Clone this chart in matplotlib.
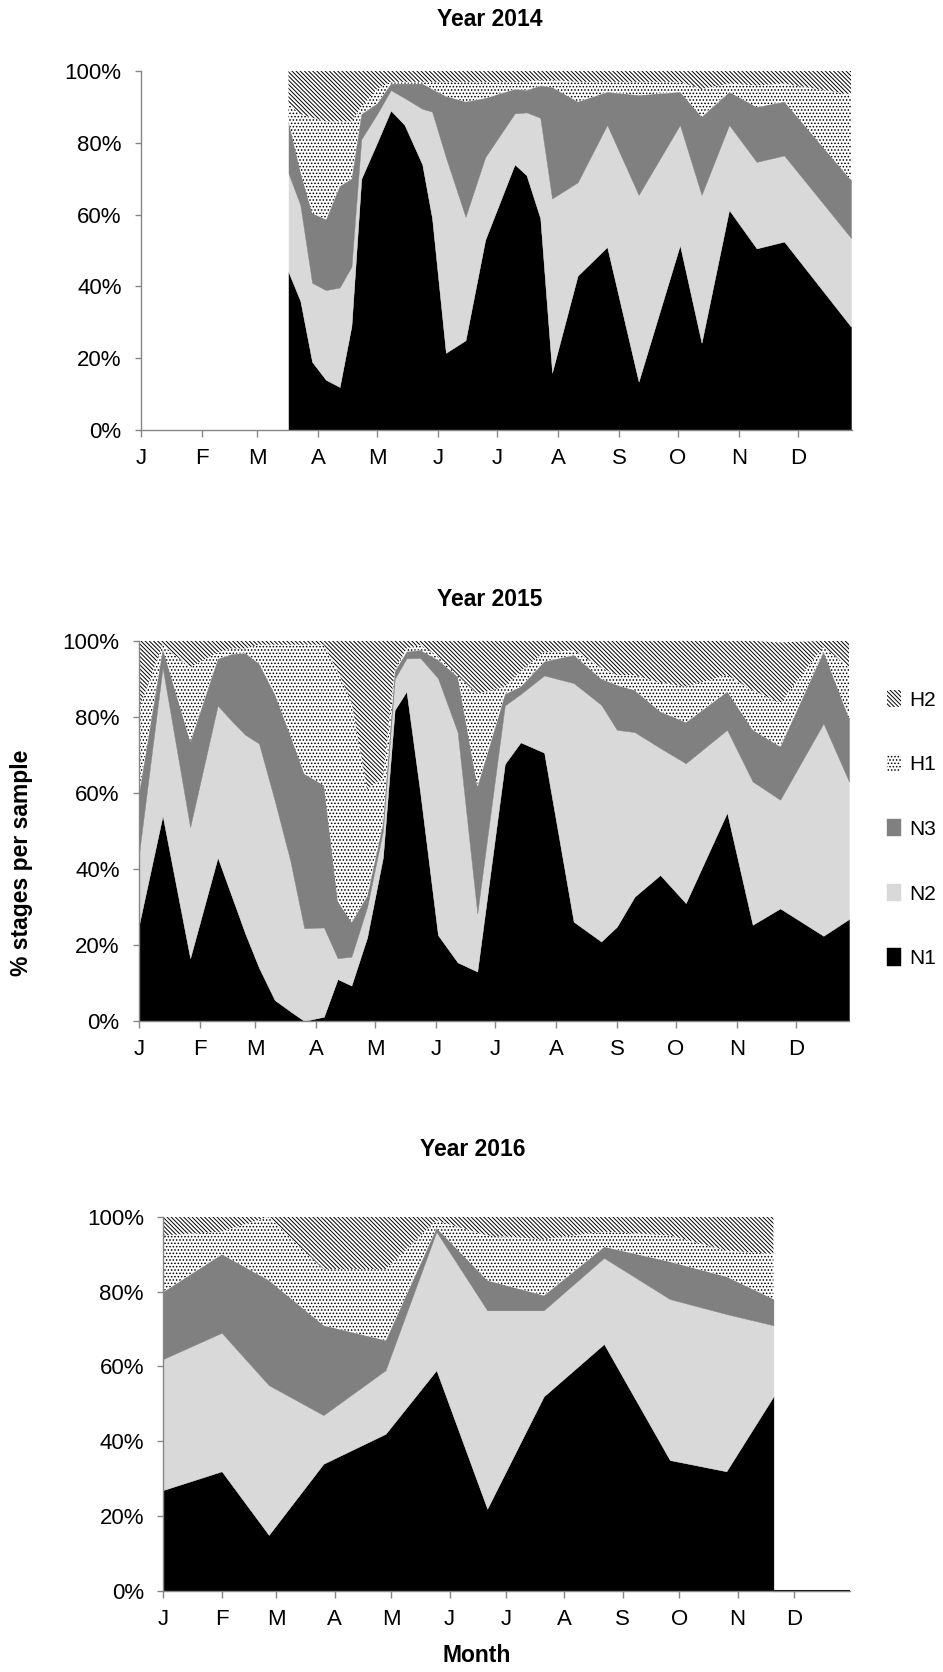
import numpy as np
import pandas as pd
import matplotlib
matplotlib.use('Agg')
import matplotlib.pyplot as plt
import matplotlib.dates as mdates
from matplotlib.ticker import PercentFormatter, FuncFormatter, MultipleLocator

plt.rcParams['font.family'] = ['Liberation Sans', 'DejaVu Sans']
plt.rcParams['hatch.linewidth'] = 0.7

stages = ['N1', 'N2', 'N3', 'H1', 'H2']
colours = ['black', '#d9d9d9', '#808080', 'white', 'white']
hatches = [None, None, None, '.....', '\\' * 8]

# --- 2014 samples (% of each stage per sample) ---
dates_2014 = ['2014-03-17', '2014-03-23', '2014-03-29', '2014-04-05', '2014-04-12',
              '2014-04-18', '2014-04-23', '2014-05-01', '2014-05-08', '2014-05-15',
              '2014-05-24', '2014-05-29', '2014-06-05', '2014-06-15', '2014-06-25',
              '2014-07-10', '2014-07-16', '2014-07-23', '2014-07-29', '2014-08-11',
              '2014-08-26', '2014-09-11', '2014-10-02', '2014-10-13', '2014-10-27',
              '2014-11-10', '2014-11-24', '2014-12-28']
n1_2014 = [44, 36, 19, 14, 12, 29, 70, 80, 89, 85, 74, 59, 21.5, 25, 53, 74, 71, 59,
           16, 43, 51, 13.5, 51.5, 24.3, 61.3, 50.6, 52.5, 28.8]
n2_2014 = [27.5, 26.7, 22, 25, 27.7, 16.5, 11, 8, 5.7, 7.5, 15.5, 29.7, 54.5, 34.4, 23,
           14.2, 17.5, 28, 48.5, 26, 34, 52, 33.5, 41.2, 23.7, 24.1, 24, 24.7]
n3_2014 = [14.5, 9.3, 19.4, 19.7, 28.3, 24.5, 7, 3, 1.8, 4, 7, 6.3, 17, 32.1, 16.5,
           6.8, 6.2, 9, 31, 22.5, 9.2, 27.8, 9.2, 21.8, 9.2, 15.3, 15, 16.1]
h1_2014 = [5, 16, 26.6, 27.3, 18, 16, 2, 4, 0.5, 0.5, 0.5, 2, 4, 5.5, 4.5, 2, 2.3, 1.5,
           2, 5.5, 2.8, 3.7, 2.8, 7.7, 2.3, 6, 5, 23.9]
h2_2014 = [9, 12, 13, 14, 14, 14, 10, 5, 3, 3, 3, 3, 3, 3, 3, 3, 3, 2.5, 2.5, 3, 3, 3,
           3, 5, 3.5, 4, 3.5, 6.5]

# --- 2015 samples ---
dates_2015 = ['2015-01-01', '2015-01-13', '2015-01-27', '2015-02-10', '2015-02-17',
              '2015-02-24', '2015-03-03', '2015-03-11', '2015-03-19', '2015-03-26',
              '2015-04-05', '2015-04-12', '2015-04-19', '2015-04-27', '2015-05-05',
              '2015-05-11', '2015-05-17', '2015-05-24', '2015-06-02', '2015-06-12',
              '2015-06-22', '2015-07-06', '2015-07-14', '2015-07-26', '2015-08-10',
              '2015-08-24', '2015-09-01', '2015-09-10', '2015-09-23', '2015-10-06',
              '2015-10-27', '2015-11-09', '2015-11-23', '2015-12-15', '2015-12-28']
n1_2015 = [25.3, 54, 16.5, 43, 33, 23, 14, 5.5, 2.5, 0, 1.1, 11, 9.3, 22, 43, 81.8,
           86.7, 60, 22.6, 15.4, 13, 67.6, 73.3, 70.6, 26.1, 20.9, 24.8, 32.7, 38.4,
           31, 54.8, 25.3, 29.6, 22.4, 26.8]
n2_2015 = [18.7, 39, 34.5, 40, 46, 52.3, 59, 52.5, 39.5, 24.4, 23.5, 5.5, 7.6, 8, 7,
           8.2, 8.7, 35.5, 67.6, 60.6, 15.3, 15.4, 12.7, 20.3, 62.8, 62.3, 51.8, 43.3,
           33.4, 36.8, 21.8, 37.7, 28.6, 55.9, 36.2]
n3_2015 = [16, 5, 22.5, 12.3, 17.5, 21.5, 21, 28, 33, 40.6, 37.4, 15, 9.1, 3, 2, 2,
           1.8, 2.1, 4.8, 14.6, 33.4, 3, 2, 3.7, 7.4, 6.8, 11.8, 11, 9.6, 10.8, 10.1,
           13.6, 14, 18.9, 16.6]
h1_2015 = [22, 1, 19.5, 1.7, 1.5, 1.2, 5, 13, 24, 34, 37, 60.5, 58, 28, 12, 0.5, 0.8,
           1.4, 1, 0.4, 24.3, 2, 4, 2.4, 1.2, 3, 2.6, 4, 7.6, 9.4, 4.3, 10.4, 11.4,
           1.3, 13.4]
h2_2015 = [18, 1, 7, 3, 2, 2, 1, 1, 1, 1, 1, 8, 16, 39, 36, 7.5, 2, 1, 4, 9, 14, 12,
           8, 3, 2.5, 7, 9, 9, 11, 12, 9, 13, 16, 1.5, 7]

# --- 2016 samples ---
dates_2016 = ['2016-01-01', '2016-02-01', '2016-02-26', '2016-03-26', '2016-04-28',
              '2016-05-25', '2016-06-21', '2016-07-21', '2016-08-22', '2016-09-26',
              '2016-10-26', '2016-11-20']
n1_2016 = [27, 32, 15, 34, 42, 59, 22, 52, 66, 35, 32, 52]
n2_2016 = [35, 37, 40, 13, 17, 37, 53, 23, 23, 43, 42, 19]
n3_2016 = [18, 21, 28, 24, 8, 1, 8, 4, 3, 10, 10, 7]
h1_2016 = [15, 6, 17, 15, 19, 2, 12, 15, 4, 7, 7, 12]
h2_2016 = [5, 4, 0, 14, 14, 1, 5, 6, 4, 5, 9, 10]

axis_grey = '#868686'


def month_letter(v, pos):
    return mdates.num2date(v).strftime('%b')[0]


def draw_year(ax, dates, layers, start, end):
    x = mdates.date2num(pd.to_datetime(dates))
    base = np.zeros(len(x))
    polys = []
    for vals, fc, h in zip(layers, colours, hatches):
        top = base + np.asarray(vals, dtype=float)
        if h is None:
            p = ax.fill_between(x, base, top, facecolor=fc, edgecolor=fc,
                                linewidth=0.3)
        else:
            p = ax.fill_between(x, base, top, facecolor=fc, edgecolor='black',
                                linewidth=0, hatch=h)
        polys.append(p)
        base = top

    ax.set_xlim(mdates.date2num(pd.Timestamp(start)), mdates.date2num(pd.Timestamp(end)))
    ax.set_ylim(0, 100)
    ax.yaxis.set_major_locator(MultipleLocator(20))
    ax.yaxis.set_major_formatter(PercentFormatter(decimals=0))
    ax.xaxis.set_major_locator(mdates.MonthLocator())
    ax.xaxis.set_major_formatter(FuncFormatter(month_letter))
    for s in ['top', 'right']:
        ax.spines[s].set_visible(False)
    for s in ['left', 'bottom']:
        ax.spines[s].set_color(axis_grey)
        ax.spines[s].set_linewidth(1.0)
    ax.tick_params(axis='y', length=4, width=1, color=axis_grey, labelsize=16, pad=10)
    ax.tick_params(axis='x', length=5, width=1, color=axis_grey, labelsize=16, pad=8)
    return polys


fig = plt.figure(figsize=(9.43, 16.72), dpi=100)

ax1 = fig.add_axes([0.1495, 0.7428, 0.7540, 0.2147])
ax2 = fig.add_axes([0.1474, 0.3894, 0.7529, 0.2273])
ax3 = fig.add_axes([0.1732, 0.0484, 0.7282, 0.2239])

draw_year(ax1, dates_2014, [n1_2014, n2_2014, n3_2014, h1_2014, h2_2014],
          '2014-01-01', '2014-12-28 12:00')
polys = draw_year(ax2, dates_2015, [n1_2015, n2_2015, n3_2015, h1_2015, h2_2015],
                  '2015-01-01', '2015-12-28')
draw_year(ax3, dates_2016, [n1_2016, n2_2016, n3_2016, h1_2016, h2_2016],
          '2016-01-01', '2016-12-30 16:00')

# no samples after the last 2016 date: N1 sits on zero to the end of the axis
last = mdates.date2num(pd.Timestamp(dates_2016[-1]))
ax3.plot([last, ax3.get_xlim()[1]], [0, 0], color='black', linewidth=1.5,
         solid_capstyle='butt', clip_on=False)

title_kw = dict(ha='center', va='center', fontsize=16.5, fontweight='bold')
fig.text(0.519, 1 - 19 / 1672, 'Year 2014', **title_kw)
fig.text(0.519, 1 - 600 / 1672, 'Year 2015', **title_kw)
fig.text(0.501, 1 - 1150 / 1672, 'Year 2016', **title_kw)

fig.text(22 / 943, 1 - 863 / 1672, '% stages per sample', rotation=90,
         ha='center', va='center', fontsize=16.5, fontweight='bold')
fig.text(477 / 943, 1 - 1656 / 1672, 'Month', ha='center', va='center',
         fontsize=16.5, fontweight='bold')

fig.legend(polys[::-1], stages[::-1], loc='center left',
           bbox_to_anchor=(887 / 943, 1 - 829 / 1672), frameon=False,
           fontsize=15, handlelength=0.65, handleheight=0.9, handletextpad=0.4,
           labelspacing=2.15, borderpad=0, borderaxespad=0)

fig.savefig('out.png', dpi=100)
